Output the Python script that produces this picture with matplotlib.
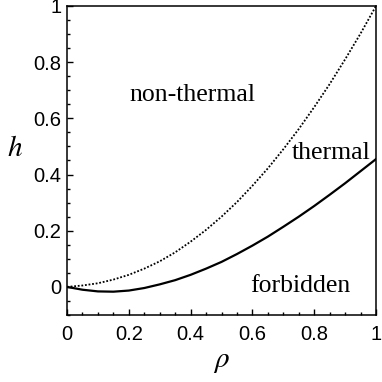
import numpy as np
import matplotlib
matplotlib.use("Agg")
import matplotlib.pyplot as plt
from matplotlib.ticker import MultipleLocator

plt.rcParams["mathtext.fontset"] = "stix"

# =========================
# Data
# =========================

rho = [0.0, 0.05, 0.1, 0.15, 0.2, 0.25, 0.3, 0.35, 0.4, 0.45, 0.5,
       0.55, 0.6, 0.65, 0.7, 0.75, 0.8, 0.85, 0.9, 0.95, 1.0]

# dotted boundary: non-thermal / thermal
h_upper = [0.0, 0.005, 0.013, 0.026, 0.043, 0.065, 0.091, 0.123, 0.161, 0.203, 0.25,
           0.302, 0.36, 0.422, 0.49, 0.562, 0.64, 0.722, 0.81, 0.902, 1.0]

# solid boundary: thermal / forbidden
h_lower = [0.0, -0.010, -0.016, -0.017, -0.013, -0.004, 0.009, 0.024, 0.043, 0.065, 0.089,
           0.117, 0.147, 0.179, 0.214, 0.250, 0.288, 0.328, 0.369, 0.412, 0.455]

region_labels = ["non-thermal", "thermal", "forbidden"]
region_pos = [(0.405, 0.683), (0.854, 0.477), (0.755, 0.003)]

x_ticks = [0, 0.2, 0.4, 0.6, 0.8, 1]
y_ticks = [0, 0.2, 0.4, 0.6, 0.8, 1]

# =========================
# Figure
# =========================

fig = plt.figure(figsize=(3.82, 3.82), dpi=100)
ax = fig.add_axes([0.1754, 0.1754, 0.8089, 0.8089])

ax.plot(rho, h_upper, color="black", linestyle=(0, (1, 1)), linewidth=1.3)
ax.plot(rho, h_lower, color="black", linestyle="-", linewidth=1.6)

for txt, (px, py) in zip(region_labels, region_pos):
    ax.text(px, py, txt, family="Liberation Serif", fontsize=18.5,
            ha="center", va="center")

ax.set_xlim(0, 1)
ax.set_ylim(-0.1, 1)

ax.set_xticks(x_ticks)
ax.set_yticks(y_ticks)
ax.set_xticklabels([f"{v:g}" for v in x_ticks])
ax.set_yticklabels([f"{v:g}" for v in y_ticks])
ax.xaxis.set_minor_locator(MultipleLocator(0.05))
ax.yaxis.set_minor_locator(MultipleLocator(0.05))

ax.tick_params(which="both", direction="in", top=False, right=False, width=1.0)
ax.tick_params(which="major", length=4.5, labelsize=14.5, pad=7)
ax.tick_params(axis="y", which="major", pad=4)
ax.tick_params(which="minor", length=2.2)
for lab in ax.get_xticklabels() + ax.get_yticklabels():
    lab.set_family("Liberation Sans")

for sp in ax.spines.values():
    sp.set_linewidth(1.1)

ax.set_xlabel(r"$\rho$", fontsize=21, va="center")
ax.set_ylabel(r"$h$", fontsize=21, rotation=0, va="center", ha="center")
ax.xaxis.set_label_coords(0.5, -0.149)
ax.yaxis.set_label_coords(-0.168, 0.54)

fig.savefig("out.png", dpi=100)
